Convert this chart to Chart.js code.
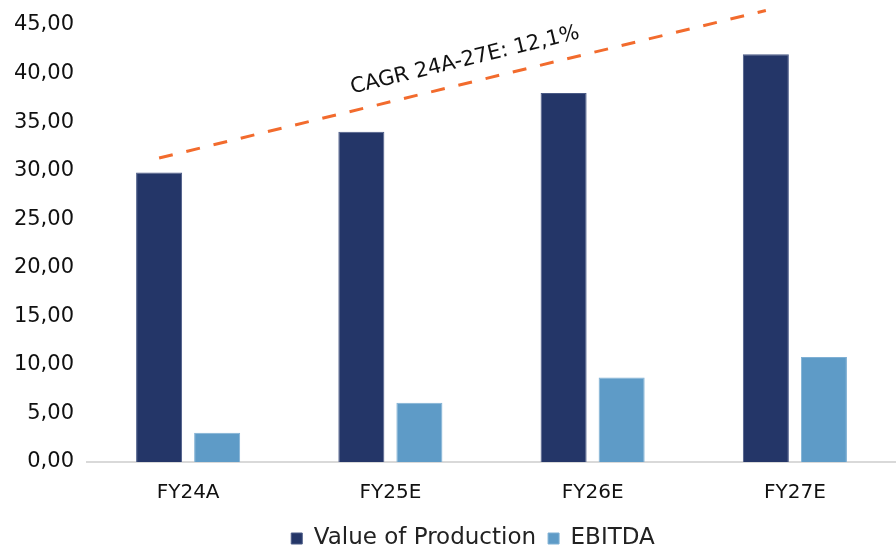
<!DOCTYPE html>
<html>
<head>
<meta charset="utf-8">
<script src="https://cdn.jsdelivr.net/npm/chart.js@4.4.1/dist/chart.umd.min.js"></script>
<style>
  html, body { margin: 0; padding: 0; background: #fff; }
  #wrap { width: 896px; height: 551px; }
</style>
</head>
<body>
<div id="wrap"><canvas id="chart" width="896" height="551"></canvas></div>
<script>
const categories = ["FY24A", "FY25E", "FY26E", "FY27E"]
const valueOfProduction = [29.8, 34.0, 38.0, 42.0]
const ebitda = [3.0, 6.1, 8.7, 10.8]
const yTicks = [0, 5, 10, 15, 20, 25, 30, 35, 40, 45]
// trend line drawn over the dark bars of the first and last year
const cagrLine = [31.3, 46.5]
const cagrLabel = "CAGR 24A-27E: 12,1%"

const FONT = "'DejaVu Sans', sans-serif"

const cagrPlugin = {
    id: "cagr",
    afterDatasetsDraw(chart) {
        const ctx = chart.ctx
        const meta = chart.getDatasetMeta(0)
        const y = chart.scales.y
        const x1 = meta.data[0].x
        const x2 = meta.data[meta.data.length - 1].x
        const y1 = y.getPixelForValue(cagrLine[0])
        const y2 = y.getPixelForValue(cagrLine[1])

        ctx.save()
        ctx.strokeStyle = "#f26b2d"
        ctx.lineWidth = 3
        ctx.setLineDash([14, 14])
        ctx.beginPath()
        ctx.moveTo(x1, y1)
        ctx.lineTo(x2, y2)
        ctx.stroke()

        const angle = Math.atan2(y2 - y1, x2 - x1)
        const mx = (x1 + x2) / 2
        const my = (y1 + y2) / 2
        ctx.translate(mx, my)
        ctx.rotate(angle)
        ctx.setLineDash([])
        ctx.fillStyle = "#111"
        ctx.font = "normal normal 400 21px " + FONT
        ctx.textAlign = "center"
        ctx.textBaseline = "alphabetic"
        ctx.fillText(cagrLabel, 8, -17)
        ctx.restore()
    }
}

// pull the legend closer to the bottom edge and nudge it right
const legendShift = {
    id: "legendShift",
    beforeInit(chart) {
        const legend = chart.legend
        const fit = legend.fit
        legend.fit = function () {
            fit.call(this)
            this.height -= 10
        }
        const draw = legend.draw
        legend.draw = function () {
            const ctx = this.ctx
            ctx.save()
            ctx.translate(25, -1)
            draw.call(this)
            ctx.restore()
        }
    }
}

new Chart("chart", {
    type: "bar",
    data: {
        labels: categories,
        datasets: [{
            label: "Value of Production",
            data: valueOfProduction,
            backgroundColor: "#243668",
            borderColor: "#4a5a86",
            borderWidth: 1
        }, {
            label: "EBITDA",
            data: ebitda,
            backgroundColor: "#5e9bc7",
            borderColor: "#7fb0d4",
            borderWidth: 1
        }]
    },
    options: {
        responsive: false,
        animation: false,
        devicePixelRatio: 1,
        categoryPercentage: 0.574,
        barPercentage: 0.793,
        layout: { padding: { top: 25, right: 0, left: 0, bottom: 0 } },
        plugins: {
            tooltip: { enabled: false },
            legend: {
                position: "bottom",
                labels: {
                    color: "#222",
                    font: { family: FONT, size: 23 },
                    boxWidth: 11,
                    boxHeight: 11,
                    padding: 12
                }
            }
        },
        scales: {
            x: {
                grid: { display: false },
                border: { color: "#d9d9d9", width: 2 },
                ticks: { color: "#111", font: { family: FONT, size: 20 }, padding: 11 }
            },
            y: {
                min: 0,
                max: 45,
                afterBuildTicks(axis) {
                    axis.ticks = yTicks.map(v => ({ value: v }))
                },
                afterFit(axis) { axis.width = 87 },
                grid: { display: false },
                border: { display: false },
                ticks: {
                    color: "#111",
                    padding: 5,
                    font: { family: FONT, size: 21 },
                    callback: v => v.toFixed(2).replace(".", ",")
                }
            }
        }
    },
    plugins: [cagrPlugin, legendShift]
})
</script>
</body>
</html>
